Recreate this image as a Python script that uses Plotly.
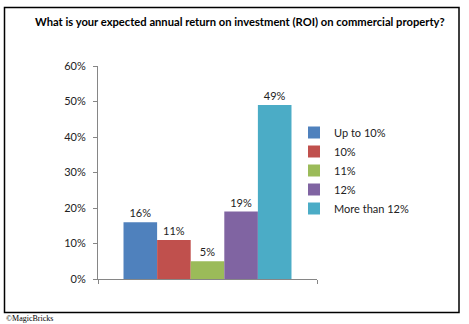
import plotly.graph_objects as go

categories = ["Up to 10%", "10%", "11%", "12%", "More than 12%"]
values = [0.16, 0.11, 0.05, 0.19, 0.49]
colors = ["#4F81BD", "#C0504D", "#9BBB59", "#8064A2", "#4BACC6"]
title = "What is your expected annual return on investment (ROI) on commercial property?"
footer = "©MagicBricks"

W, H = 469, 324
L, R, T, B = 98, 317, 66, 279
pw, ph = R - L, B - T

def px(x):
    return (x - L) / pw

def py(y):
    return (B - y) / ph

fig = go.Figure()
for name, v, c in zip(categories, values, colors):
    fig.add_trace(go.Bar(
        x=[0], y=[v], name=name, marker=dict(color=c, line=dict(width=0)),
        texttemplate="%{y:.0%}", textposition="outside",
        textfont=dict(family="Lato", size=11, color="#222"),
        cliponaxis=False,
    ))

fig.update_layout(
    width=W, height=H,
    margin=dict(l=L, r=W - R, t=T, b=H - B),
    paper_bgcolor="white", plot_bgcolor="white",
    barmode="group", bargap=0.233, bargroupgap=0,
    showlegend=True,
    legend=dict(x=px(294), y=py(118), xanchor="left", yanchor="top",
                font=dict(family="Lato", size=11, color="#222"),
                bgcolor="rgba(0,0,0,0)", tracegroupgap=0, itemwidth=30),
    font=dict(family="Lato", size=11, color="#222"),
    xaxis=dict(range=[-0.5, 0.5], tickvals=[-0.5, 0.5], showticklabels=False,
               ticks="outside", ticklen=4, tickcolor="#868686",
               showline=True, linecolor="#868686", linewidth=1,
               showgrid=False, zeroline=False, fixedrange=True),
    yaxis=dict(range=[0, 0.6], dtick=0.1, tickformat=".0%",
               ticks="outside", ticklen=4, tickcolor="#868686",
               showline=True, linecolor="#868686", linewidth=1,
               showgrid=False, zeroline=False, ticklabelstandoff=5,
               tickfont=dict(family="Lato", size=11, color="#222")),
    shapes=[dict(type="rect", xref="paper", yref="paper",
                 x0=px(4.5), x1=px(459), y0=py(312.5), y1=py(7.5),
                 line=dict(color="black", width=1.5))],
    annotations=[
        dict(text="<b>" + title + "</b>", xref="paper", yref="paper",
             x=px(240), y=py(22), xanchor="center", yanchor="middle",
             showarrow=False, font=dict(family="Lato", size=11.2, color="black")),
        dict(text=footer, xref="paper", yref="paper",
             x=px(4), y=py(318), xanchor="left", yanchor="middle",
             showarrow=False, font=dict(family="Liberation Serif", size=8, color="black")),
    ],
)

fig.write_html("out.html")
